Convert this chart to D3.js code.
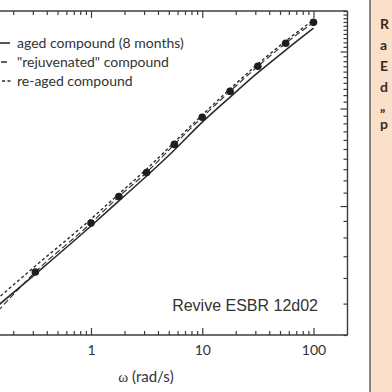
<!DOCTYPE html>
<html><head><meta charset="utf-8">
<script src="https://cdn.jsdelivr.net/npm/d3@7"></script>
<style>
html,body{margin:0;padding:0;background:#fff;overflow:hidden;}
svg{display:block;}
</style></head>
<body>
<script>
// ---- data ----
const omega = [0.1, 0.316, 1, 1.78, 3.16, 5.62, 10, 17.8, 31.6, 56.2, 100];
const agedValues = [4.42, 6.17, 8.68, 10.37, 12.38, 14.9, 18.16, 21.7, 25.8, 30.3, 35.4];
const rejuvenatedValues = [4.11, 6.26, 8.86, 10.7, 12.7, 15.5, 18.8, 22.6, 27.0, 31.8, 36.9];
const reagedValues = [4.64, 6.53, 9.12, 10.9, 13.0, 15.76, 19.1, 22.98, 27.45, 32.3, 37.5];
const seriesNames = ['aged compound (8 months)', '"rejuvenated" compound', 're-aged compound'];
const xMajorTicks = [0.01, 0.1, 1, 10, 100];
const xTickLabels = ['', '', '1', '10', '100'];
const yMajorTicks = [10, 20, 30];
const xTitle = 'ω (rad/s)';
const annotation = 'Revive ESBR 12d02';
const sideLetters = ['R', 'a', 'E', 'd', '„', 'p'];

// ---- layout ----
const W = 392, H = 392;
const plotTop = 11, plotBottom = 335, plotRight = 347.5;
const dec = 111.25, x1 = 91;
const svg = d3.select('body').append('svg').attr('width', W).attr('height', H);

const x = d3.scaleLog().domain([0.01, 200]).range([x1 - 2 * dec, x1 + Math.log10(200) * dec]);
const y = d3.scaleLog().domain([4, 40]).range([plotBottom, plotTop]);

const xMinor = [];
[0.01, 0.1, 1, 10, 100].forEach(d => { for (let k = 2; k <= 9; k++) { const v = d * k; if (v < 200) xMinor.push(v); } });
const yMinor = d3.range(4, 41).filter(v => !yMajorTicks.includes(v));

const ink = '#2b2b2b', frame = '#3c3c3c';

// frame lines
const g = svg.append('g');
g.append('line').attr('x1', x.range()[0]).attr('x2', plotRight).attr('y1', plotTop).attr('y2', plotTop).attr('stroke', frame).attr('stroke-width', 1.4);
g.append('line').attr('x1', x.range()[0]).attr('x2', plotRight).attr('y1', plotBottom).attr('y2', plotBottom).attr('stroke', frame).attr('stroke-width', 1.4);
g.append('line').attr('x1', plotRight).attr('x2', plotRight).attr('y1', plotTop).attr('y2', plotBottom).attr('stroke', frame).attr('stroke-width', 1.4);

function styleAxis(sel) {
  sel.select('.domain').remove();
  sel.selectAll('line').attr('stroke', frame).attr('stroke-width', 1.2);
}
// bottom axis
const bMaj = svg.append('g').attr('transform', `translate(0,${plotBottom})`)
  .call(d3.axisBottom(x).tickValues(xMajorTicks).tickSizeInner(-7).tickSizeOuter(0).tickPadding(10)
    .tickFormat((d, i) => xTickLabels[i]));
styleAxis(bMaj);
bMaj.selectAll('text').attr('font-family', 'Lato, "Open Sans", sans-serif').attr('font-size', 14).attr('fill', '#333');
const bMin = svg.append('g').attr('transform', `translate(0,${plotBottom})`)
  .call(d3.axisBottom(x).tickValues(xMinor).tickSizeInner(-4).tickSizeOuter(0).tickFormat(''));
styleAxis(bMin);
// top axis
const tMaj = svg.append('g').attr('transform', `translate(0,${plotTop})`)
  .call(d3.axisTop(x).tickValues(xMajorTicks).tickSizeInner(-7).tickSizeOuter(0).tickFormat(''));
styleAxis(tMaj);
const tMin = svg.append('g').attr('transform', `translate(0,${plotTop})`)
  .call(d3.axisTop(x).tickValues(xMinor).tickSizeInner(-4).tickSizeOuter(0).tickFormat(''));
styleAxis(tMin);
// right axis
const rMaj = svg.append('g').attr('transform', `translate(${plotRight},0)`)
  .call(d3.axisRight(y).tickValues(yMajorTicks).tickSizeInner(-7).tickSizeOuter(0).tickFormat(''));
styleAxis(rMaj);
const rMin = svg.append('g').attr('transform', `translate(${plotRight},0)`)
  .call(d3.axisRight(y).tickValues(yMinor).tickSizeInner(-4).tickSizeOuter(0).tickFormat(''));
styleAxis(rMin);

// lines
const line = d3.line().x(d => x(d[0])).y(d => y(d[1])).curve(d3.curveMonotoneX);
svg.append('clipPath').attr('id', 'pc').append('rect')
  .attr('x', x.range()[0]).attr('y', plotTop).attr('width', plotRight - x.range()[0]).attr('height', plotBottom - plotTop);
const pg = svg.append('g').attr('clip-path', 'url(#pc)');
pg.append('path').datum(omega.map((o, i) => [o, rejuvenatedValues[i]]))
  .attr('d', line).attr('fill', 'none').attr('stroke', ink).attr('stroke-width', 1.1).attr('stroke-dasharray', '6,3');
pg.append('path').datum(omega.map((o, i) => [o, agedValues[i]]))
  .attr('d', line).attr('fill', 'none').attr('stroke', ink).attr('stroke-width', 1.6);
pg.append('path').datum(omega.map((o, i) => [o, reagedValues[i]]))
  .attr('d', line).attr('fill', 'none').attr('stroke', ink).attr('stroke-width', 1.4).attr('stroke-dasharray', '3,2.5');
pg.selectAll('circle').data(omega.map((o, i) => [o, rejuvenatedValues[i]])).enter().append('circle')
  .attr('cx', d => x(d[0])).attr('cy', d => y(d[1])).attr('r', 3.8).attr('fill', '#1e1e1e');

// legend
const lf = 'Lato, "Open Sans", sans-serif';
const legY = [43, 62, 81];
const lg = svg.append('g');
lg.append('line').attr('x1', -20).attr('x2', 10).attr('y1', legY[0]).attr('y2', legY[0]).attr('stroke', ink).attr('stroke-width', 1.6);
lg.append('line').attr('x1', -26).attr('x2', 8.5).attr('y1', legY[1]).attr('y2', legY[1]).attr('stroke', ink).attr('stroke-width', 1.4).attr('stroke-dasharray', '6,3');
lg.append('circle').attr('cx', -10).attr('cy', legY[1]).attr('r', 3.8).attr('fill', '#1e1e1e');
lg.append('line').attr('x1', -20).attr('x2', 11).attr('y1', legY[2]).attr('y2', legY[2]).attr('stroke', ink).attr('stroke-width', 1.4).attr('stroke-dasharray', '3,2.5');
seriesNames.forEach((s, i) => {
  lg.append('text').attr('x', 17).attr('y', legY[i] + 5).attr('font-family', lf).attr('font-size', 14)
    .attr('fill', '#333').text(s);
});

// annotation
svg.append('text').attr('x', 318).attr('y', 311).attr('text-anchor', 'end')
  .attr('font-family', '"Liberation Sans", Arial, sans-serif').attr('font-size', 16).attr('fill', '#333').text(annotation);

// x title
svg.append('text').attr('x', 146).attr('y', 382).attr('text-anchor', 'middle')
  .attr('font-family', lf).attr('font-size', 15).attr('fill', '#333')
  .call(t => { t.append('tspan').attr('font-family', '"Liberation Serif", "DejaVu Serif", serif').text(xTitle.slice(0, 1)); t.append('tspan').text(xTitle.slice(1)); });

// side box
svg.append('rect').attr('x', 370).attr('y', -5).attr('width', 40).attr('height', 410)
  .attr('fill', '#fbe0c9').attr('stroke', '#4a4a4a').attr('stroke-width', 1.3);
const sideY = [29, 50, 71, 92, 110.5, 128.5];
sideLetters.forEach((c, i) => {
  svg.append('text').attr('x', 380).attr('y', sideY[i]).attr('font-family', lf).attr('font-weight', 'bold')
    .attr('font-size', 14).attr('fill', '#3a2a1e').text(c);
});
</script>
</body></html>
